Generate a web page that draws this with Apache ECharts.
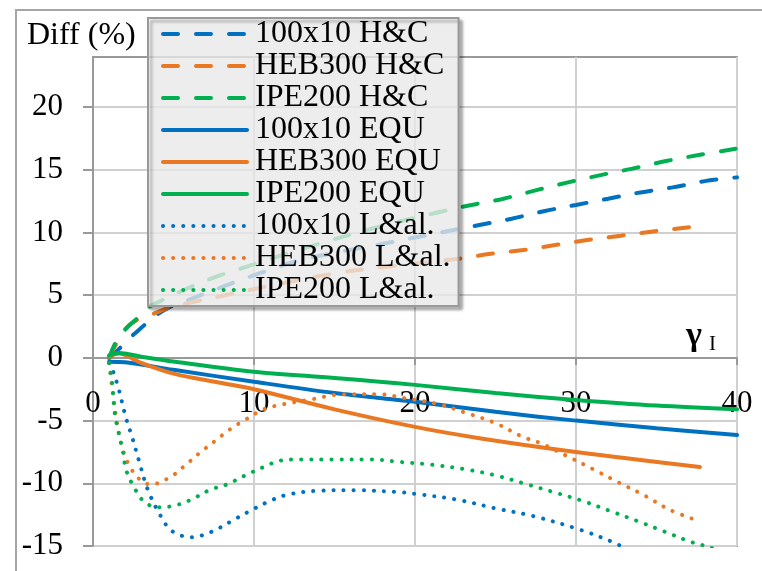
<!DOCTYPE html>
<html>
<head>
<meta charset="utf-8">
<script src="https://cdn.jsdelivr.net/npm/echarts@6/dist/echarts.min.js"></script>
<style>
  html, body { margin: 0; padding: 0; background: #fff; }
  #chart { width: 762px; height: 571px; }
</style>
</head>
<body>
<div id="chart"></div>
<script>
// values (x = gamma_I, y = Diff %)
const hc100X = [1, 1.6, 2.3, 3.0, 3.7, 4.7, 5.9, 7.9, 9.8, 12.9, 18, 22, 24, 26, 28, 30, 32, 34, 36, 38, 40];
const hc100Y = [0, 0.7, 1.6, 2.4, 3.2, 4.0, 4.6, 5.6, 6.5, 7.8, 9.1, 10.1, 10.6, 11.1, 11.7, 12.2, 12.7, 13.2, 13.6, 14.1, 14.4];
const hcHebX = [1, 1.4, 2.0, 2.7, 3.7, 4.7, 6.0, 8.2, 10.4, 15.3, 18.4, 22.6, 24.7, 26.7, 28.7, 30.7, 32.8, 34.9, 36.9, 37.4];
const hcHebY = [0, 1.0, 2.3, 3.0, 3.5, 4.0, 4.4, 5.0, 5.6, 6.8, 7.3, 7.9, 8.3, 8.6, 9.0, 9.4, 9.75, 10.1, 10.4, 10.45];
const hcIpeX = [1, 1.4, 2.1, 2.7, 3.4, 4.3, 5.6, 7.5, 9.6, 13.5, 17.6, 21.4, 23.5, 25.5, 27.6, 29.5, 31.6, 33.5, 35.6, 37.7, 40];
const hcIpeY = [0, 1.2, 2.4, 3.1, 4.0, 4.6, 5.4, 6.4, 7.3, 8.9, 10.4, 11.6, 12.2, 12.7, 13.4, 14.0, 14.6, 15.1, 15.7, 16.2, 16.7];

const eq100X = [1, 2, 5, 10, 15, 17.8, 20, 25, 30, 35, 40];
const eq100Y = [-0.3, -0.35, -0.95, -1.9, -2.8, -3.2, -3.5, -4.3, -5.0, -5.6, -6.15];
const eqHebX = [1, 1.6, 3, 5, 8, 10, 15, 20, 24, 30, 37.7];
const eqHebY = [0.1, 0.35, -0.4, -1.25, -2.0, -2.5, -4.1, -5.5, -6.4, -7.5, -8.7];
const eqIpeX = [1, 1.6, 3, 5.1, 10, 15, 17.8, 20, 25, 30, 35, 40];
const eqIpeY = [0.2, 0.4, 0.1, -0.3, -1.1, -1.6, -1.9, -2.15, -2.8, -3.35, -3.8, -4.1];

const la100X = [1, 1.25, 1.6, 2.05, 2.4, 2.9, 3.4, 4.2, 4.9, 6.1, 7.3, 8.9, 9.9, 11, 12.1, 13.9, 16.4, 18.9, 20.1, 22.6, 25, 27.3, 30.25, 32.5, 33, 34];
const la100Y = [-0.4, -1.1, -2.5, -4.8, -6.2, -8.4, -10.5, -12.6, -13.8, -14.3, -13.9, -12.8, -12.1, -11.4, -10.9, -10.6, -10.55, -10.7, -10.85, -11.3, -12.0, -12.6, -13.7, -14.8, -15.2, -15.9];
const laHebX = [1, 1.2, 1.5, 1.85, 2.3, 3.0, 3.6, 4.8, 5.7, 6.6, 7.6, 8.5, 9.5, 10.6, 11.8, 13.6, 15.5, 17.8, 19.3, 21.5, 23.2, 25, 26.7, 27.8, 29.4, 31.1, 32.6, 34.3, 35.8, 37.6];
const laHebY = [-0.4, -2.5, -5.2, -7.3, -8.7, -9.8, -10.1, -9.5, -8.6, -7.6, -6.6, -5.7, -4.9, -4.1, -3.7, -3.3, -2.9, -2.9, -3.2, -3.7, -4.4, -5.2, -6.3, -6.8, -7.8, -8.9, -9.9, -11.0, -12.1, -13.0];
const laIpeX = [1, 1.2, 1.35, 1.6, 1.85, 2.05, 2.5, 3.2, 4.1, 5.0, 6.1, 7.3, 8.3, 9.4, 10.6, 11.6, 12.9, 14.7, 17.2, 19.1, 20.9, 23.2, 25.1, 27, 28.6, 30.4, 32.1, 33.8, 35.4, 37.2, 38.3, 39];
const laIpeY = [-0.4, -2.1, -4.4, -6.0, -7.4, -8.9, -10.2, -11.5, -11.9, -11.8, -11.3, -10.5, -10.1, -9.4, -8.7, -8.2, -8.1, -8.1, -8.1, -8.3, -8.5, -8.9, -9.4, -10.1, -10.7, -11.4, -12.2, -13.0, -13.8, -14.7, -15.1, -15.5];

const names = ['100x10 H&C', 'HEB300 H&C', 'IPE200 H&C', '100x10 EQU', 'HEB300 EQU', 'IPE200 EQU', '100x10 L&al.', 'HEB300 L&al.', 'IPE200 L&al.'];
const yTicks = [-15, -10, -5, 0, 5, 10, 15, 20];
const Y_MIN = -15, Y_MAX = 24;

const BLUE = '#0070C0';
const ORANGE = '#EA7721';
const GREEN = '#00B050';
const FONT = 'Liberation Serif';

const W = 762, H = 571;
const GRID = { left: 93, right: 25, top: 57, bottom: 25 };
// the x axis crosses at y = 0: lift it from the bottom edge of the plot
const plotH = H - GRID.top - GRID.bottom;
const xAxisOffset = -plotH * (0 - Y_MIN) / (Y_MAX - Y_MIN);

const zip = (xs, ys) => xs.map((x, i) => [x, ys[i]]);

function makeSeries(name, xs, ys, color, kind) {
  let type = 'solid';
  if (kind === 'dash') type = [15, 18];
  if (kind === 'dot') type = [0.1, 10];
  return {
    name: name,
    type: 'line',
    data: zip(xs, ys),
    symbol: 'none',
    smooth: 0.35,
    clip: true,
    lineStyle: { color: color, width: 4, type: type, cap: 'round' },
    itemStyle: { color: color },
    emphasis: { disabled: true }
  };
}

const chart = echarts.init(document.getElementById('chart'));

const option = {
  animation: false,
  backgroundColor: '#fff',
  textStyle: { fontFamily: FONT, color: '#000' },
  grid: {
    left: GRID.left, right: GRID.right, top: GRID.top, bottom: GRID.bottom,
    outerBoundsMode: 'none', containLabel: false,
    show: true, borderColor: '#999', borderWidth: 2
  },
  legend: {
    orient: 'vertical',
    left: 148, top: 18,
    padding: [0, 8, 0, 13],
    itemWidth: 84, itemHeight: 14, itemGap: 0,
    selectedMode: false,
    backgroundColor: 'rgba(255,255,255,0.72)',
    borderColor: '#999', borderWidth: 2, borderRadius: 0,
    shadowColor: 'rgba(0,0,0,0.35)', shadowBlur: 3, shadowOffsetX: 3, shadowOffsetY: 3,
    itemStyle: { opacity: 0 },
    lineStyle: { width: 4, cap: 'round' },
    textStyle: { fontFamily: FONT, fontSize: 32, color: '#000', lineHeight: 31.75, padding: [0, 0, 0, 3] },
    data: names
  },
  xAxis: {
    type: 'value', min: 0, max: 40, interval: 10,
    position: 'bottom', offset: xAxisOffset,
    axisLine: { onZero: false, lineStyle: { color: '#999', width: 2 } },
    axisTick: { show: true, length: 7, lineStyle: { color: '#999', width: 2 } },
    axisLabel: { fontFamily: FONT, fontSize: 31, color: '#000', margin: 30, showMinLabel: true, showMaxLabel: true },
    splitLine: { show: true, lineStyle: { color: '#d0d0d0', width: 2 } }
  },
  yAxis: {
    type: 'value', min: Y_MIN, max: Y_MAX, interval: 5,
    axisLine: { show: true, onZero: false, lineStyle: { color: '#999', width: 2 } },
    axisTick: { show: true, length: 10, customValues: yTicks, lineStyle: { color: '#999', width: 2 } },
    axisLabel: { fontFamily: FONT, fontSize: 31, color: '#000', margin: 30, customValues: yTicks },
    splitLine: { show: true, lineStyle: { color: '#d0d0d0', width: 2 } }
  },
  graphic: [
    { type: 'rect', silent: true, z: -10,
      shape: { x: 16, y: 10, width: 800, height: 620 },
      style: { fill: 'none', stroke: '#a6a6a6', lineWidth: 2 } },
    { type: 'text', left: 27, top: 20,
      style: { text: 'Diff (%)', font: '32px "Liberation Serif"', fill: '#000' } },
    { type: 'text', x: 686, y: 319,
      style: { text: 'γ', font: 'bold 34px "Liberation Serif"', fill: '#000' } },
    { type: 'text', x: 709, y: 334,
      style: { text: 'I', font: '21px "Liberation Serif"', fill: '#000' } }
  ],
  series: [
    makeSeries(names[0], hc100X, hc100Y, BLUE, 'dash'),
    makeSeries(names[1], hcHebX, hcHebY, ORANGE, 'dash'),
    makeSeries(names[2], hcIpeX, hcIpeY, GREEN, 'dash'),
    makeSeries(names[3], eq100X, eq100Y, BLUE, 'solid'),
    makeSeries(names[4], eqHebX, eqHebY, ORANGE, 'solid'),
    makeSeries(names[5], eqIpeX, eqIpeY, GREEN, 'solid'),
    makeSeries(names[6], la100X, la100Y, BLUE, 'dot'),
    makeSeries(names[7], laHebX, laHebY, ORANGE, 'dot'),
    makeSeries(names[8], laIpeX, laIpeY, GREEN, 'dot')
  ]
};

chart.setOption(option);
</script>
</body>
</html>
